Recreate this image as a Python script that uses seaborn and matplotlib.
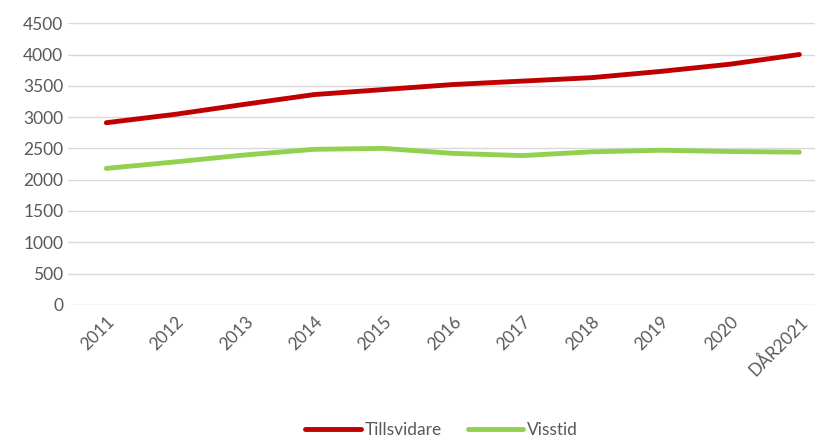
import pandas as pd
import seaborn as sns
import matplotlib.pyplot as plt

# data
years = ["2011", "2012", "2013", "2014", "2015", "2016", "2017", "2018", "2019", "2020", "DÅR2021"]
tillsvidare = [2910, 3045, 3205, 3360, 3440, 3520, 3575, 3630, 3730, 3845, 4000]
visstid = [2180, 2285, 2395, 2485, 2500, 2420, 2385, 2445, 2470, 2450, 2440]

df = pd.DataFrame({
    "år": list(range(len(years))) * 2,
    "antal": tillsvidare + visstid,
    "serie": ["Tillsvidare"] * len(years) + ["Visstid"] * len(years),
})

sns.set_theme(style="white")
plt.rcParams["font.family"] = ["Lato", "DejaVu Sans"]

fig = plt.figure(figsize=(8.22, 4.38), dpi=100)
ax = fig.add_axes([0.083, 0.304, 0.908, 0.643])

sns.lineplot(
    data=df, x="år", y="antal", hue="serie",
    palette={"Tillsvidare": "#C00000", "Visstid": "#92D050"},
    linewidth=3.5, ax=ax, legend=True,
)

ax.set_ylim(0, 4500)
ax.set_yticks(range(0, 4501, 500))
ax.set_xlim(-0.55, 10.22)
ax.set_xticks(range(len(years)))
ax.set_xticklabels(years, rotation=45, ha="right", rotation_mode="anchor")
ax.tick_params(axis="both", colors="#595959", labelsize=12.5, length=0)
ax.tick_params(axis="x", pad=6)
ax.grid(axis="y", color="#D9D9D9", linewidth=1)
ax.set_axisbelow(True)
for s in ax.spines.values():
    s.set_visible(False)
ax.set_xlabel("")
ax.set_ylabel("")

handles, labels = ax.get_legend_handles_labels()
ax.legend(handles, labels, loc="center", bbox_to_anchor=(0.5, -0.445),
          ncol=2, frameon=False, fontsize=12.5, handlelength=3.2,
          handletextpad=0.2, columnspacing=1.5, labelcolor="#595959")

fig.savefig("out.png", dpi=100)
